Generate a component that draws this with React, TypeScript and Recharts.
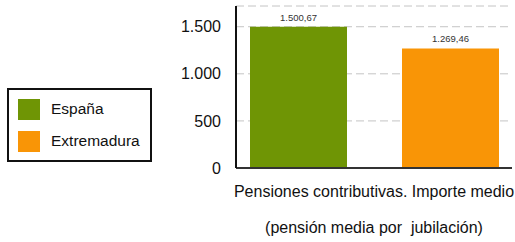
import { BarChart, Bar, XAxis, YAxis, CartesianGrid, LabelList } from "recharts";

const categories = ["Pensiones contributivas. Importe medio"];
const subtitle = "(pensión media por  jubilación)";
const espana = [1500.67];
const extremadura = [1269.46];
const yTicks = [0, 500, 1000, 1500];

const SERIES = [
  { key: "espana", name: "España", color: "#6f9505" },
  { key: "extremadura", name: "Extremadura", color: "#f99506" },
];

const data = categories.map((c, i) => ({ name: c, espana: espana[i], extremadura: extremadura[i] }));

// es-ES formatting with grouping on 4-digit numbers too
const fmt = (v: number, dec = 0) => {
  const [int, frac] = v.toFixed(dec).split(".");
  const grouped = int.replace(/\B(?=(\d{3})+(?!\d))/g, ".");
  return frac ? `${grouped},${frac}` : grouped;
};

const XTick = ({ x, y, payload }: any) => (
  <g>
    <text x={x} y={y + 21} textAnchor="middle" fontSize={16} fill="#111">
      {payload.value}
    </text>
    <text x={x} y={y + 57} textAnchor="middle" fontSize={16} fill="#111" style={{ whiteSpace: "pre" }}>
      {subtitle}
    </text>
  </g>
);

// legend drawn as plain html next to the chart
const LegendBox = () => (
  <div
    style={{
      position: "absolute",
      left: 7,
      top: 88,
      width: 145,
      height: 74,
      border: "2px solid #111",
      boxSizing: "border-box",
      padding: "8px 0 0 9px",
      fontSize: 15.5,
      color: "#111",
    }}
  >
    {SERIES.map((s) => (
      <div key={s.key} style={{ display: "flex", alignItems: "center", height: 22, marginBottom: 10 }}>
        <span style={{ width: 22, height: 21, background: s.color, marginRight: 11 }} />
        {s.name}
      </div>
    ))}
  </div>
);

export default function App() {
  return (
    <div style={{ position: "absolute", left: 0, top: 0, fontFamily: "'Liberation Sans', Arial, sans-serif" }}>
      <BarChart
        width={515}
        height={242}
        data={data}
        margin={{ top: 6, right: 3, bottom: 0, left: 0 }}
        barCategoryGap={14}
        barGap={55}
      >
        <CartesianGrid vertical={false} stroke="#c4c4c4" strokeDasharray="8 4" />
        <XAxis
          dataKey="name"
          height={74}
          axisLine={{ stroke: "#333", strokeWidth: 2 }}
          tickLine={false}
          tick={<XTick />}
          interval={0}
        />
        <YAxis
          width={236}
          domain={[0, 1720]}
          ticks={yTicks}
          tickFormatter={(v) => fmt(v)}
          axisLine={{ stroke: "#111", strokeWidth: 2 }}
          tickLine={false}
          tick={{ fontSize: 16, fill: "#111" }}
          tickMargin={9}
        />
        {SERIES.map((s) => (
          <Bar key={s.key} dataKey={s.key} name={s.name} fill={s.color} isAnimationActive={false}>
            <LabelList
              dataKey={s.key}
              position="top"
              offset={6}
              fontSize={9.5}
              fill="#333"
              formatter={(v: any) => fmt(Number(v), 2)}
            />
          </Bar>
        ))}
      </BarChart>
      <LegendBox />
    </div>
  );
}
